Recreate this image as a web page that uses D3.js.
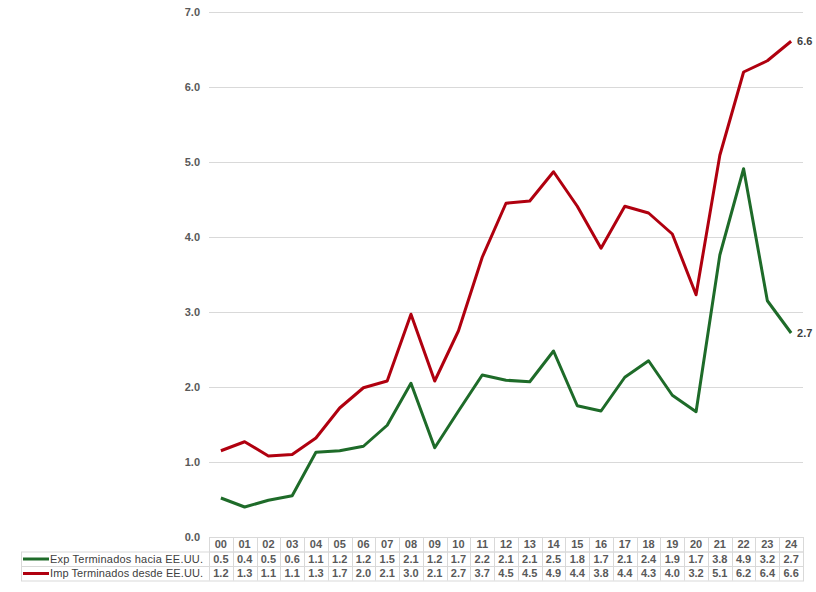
<!DOCTYPE html>
<html lang="es">
<head>
<meta charset="UTF-8">
<script src="https://cdnjs.cloudflare.com/ajax/libs/d3/7.8.5/d3.min.js"></script>
<style>
  body { margin: 0; background: #fff; }
  svg { font-family: Arial, "Liberation Sans", sans-serif; }
</style>
</head>
<body>
<div id="chart"></div>
<script>
// categories (years 2000-2024)
var years = ["00","01","02","03","04","05","06","07","08","09","10","11","12",
             "13","14","15","16","17","18","19","20","21","22","23","24"];

// values as drawn by the lines
var expValues = [0.52,0.40,0.49,0.55,1.13,1.15,1.21,1.49,2.05,1.19,1.68,2.16,2.09,
                 2.07,2.48,1.75,1.68,2.13,2.35,1.89,1.67,3.76,4.91,3.15,2.72];
var impValues = [1.15,1.27,1.08,1.10,1.32,1.72,1.99,2.08,2.97,2.08,2.75,3.73,4.45,
                 4.48,4.87,4.41,3.85,4.41,4.32,4.04,3.23,5.09,6.20,6.35,6.61];

// table labels
var expLabels = ["0.5","0.4","0.5","0.6","1.1","1.2","1.2","1.5","2.1","1.2","1.7","2.2","2.1",
                 "2.1","2.5","1.8","1.7","2.1","2.4","1.9","1.7","3.8","4.9","3.2","2.7"];
var impLabels = ["1.2","1.3","1.1","1.1","1.3","1.7","2.0","2.1","3.0","2.1","2.7","3.7","4.5",
                 "4.5","4.9","4.4","3.8","4.4","4.3","4.0","3.2","5.1","6.2","6.4","6.6"];

var seriesNames = ["Exp Terminados hacia EE.UU.", "Imp Terminados desde EE.UU."];
var seriesColors = ["#1e6b29", "#b0000f"];
var yTicks = [0,1,2,3,4,5,6,7];

var width = 816, height = 592;
var plotLeft = 209, plotRight = 803, plotTop = 12, plotBottom = 537;

var svg = d3.select("#chart").append("svg")
    .attr("width", width).attr("height", height);

var x = d3.scaleBand().domain(years).range([plotLeft, plotRight]);
var y = d3.scaleLinear().domain([0, 7]).range([plotBottom, plotTop]);

// gridlines
svg.append("g").selectAll("line")
    .data(yTicks.filter(function(d) { return d > 0; }))
    .enter().append("line")
    .attr("x1", plotLeft).attr("x2", plotRight)
    .attr("y1", function(d) { return Math.round(y(d)) + 0.5; })
    .attr("y2", function(d) { return Math.round(y(d)) + 0.5; })
    .attr("stroke", "#d9d9d9").attr("stroke-width", 1);

// y axis labels
svg.append("g").selectAll("text")
    .data(yTicks)
    .enter().append("text")
    .attr("x", 200)
    .attr("y", function(d) { return y(d) + 4; })
    .attr("text-anchor", "end")
    .attr("font-size", "11px").attr("font-weight", "bold")
    .attr("fill", "#595959")
    .text(function(d) { return d.toFixed(1); });

// lines
var line = d3.line()
    .x(function(d, i) { return x(years[i]) + x.bandwidth() / 2; })
    .y(function(d) { return y(d); });

[expValues, impValues].forEach(function(vals, k) {
    svg.append("path")
        .datum(vals)
        .attr("d", line)
        .attr("fill", "none")
        .attr("stroke", seriesColors[k])
        .attr("stroke-width", 3)
        .attr("stroke-linejoin", "round");

    var last = vals.length - 1;
    svg.append("text")
        .attr("x", x(years[last]) + x.bandwidth() / 2 + 6)
        .attr("y", y(vals[last]) + 4)
        .attr("font-size", "11px").attr("font-weight", "bold")
        .attr("fill", "#404040")
        .text([expLabels, impLabels][k][last]);
});

// data table
var rowTop = 537, rowH = 14.5, tableLeft = 21;
var grid = svg.append("g").attr("stroke", "#d9d9d9").attr("stroke-width", 1).attr("fill", "none");

// header row
grid.append("rect")
    .attr("x", plotLeft + 0.5).attr("y", rowTop + 0.5)
    .attr("width", plotRight - plotLeft).attr("height", rowH);
// data rows
grid.append("rect")
    .attr("x", tableLeft + 0.5).attr("y", rowTop + rowH + 0.5)
    .attr("width", plotRight - tableLeft).attr("height", rowH * 2);
grid.append("line")
    .attr("x1", tableLeft).attr("x2", plotRight)
    .attr("y1", rowTop + rowH * 2 + 0.5).attr("y2", rowTop + rowH * 2 + 0.5);
grid.selectAll("line.v")
    .data(years)
    .enter().append("line")
    .attr("x1", function(d) { return Math.round(x(d)) + 0.5; })
    .attr("x2", function(d) { return Math.round(x(d)) + 0.5; })
    .attr("y1", rowTop).attr("y2", rowTop + rowH * 3);

svg.append("g").selectAll("text")
    .data(years)
    .enter().append("text")
    .attr("x", function(d) { return x(d) + x.bandwidth() / 2; })
    .attr("y", rowTop + 11)
    .attr("text-anchor", "middle")
    .attr("font-size", "11px").attr("font-weight", "bold")
    .attr("fill", "#595959")
    .text(function(d) { return d; });

[expLabels, impLabels].forEach(function(labels, k) {
    var ry = rowTop + rowH * (k + 1);
    svg.append("g").selectAll("text")
        .data(labels)
        .enter().append("text")
        .attr("x", function(d, i) { return x(years[i]) + x.bandwidth() / 2; })
        .attr("y", ry + 11)
        .attr("text-anchor", "middle")
        .attr("font-size", "11px").attr("font-weight", "bold")
        .attr("fill", "#595959")
        .text(function(d) { return d; });

    svg.append("line")
        .attr("x1", 23).attr("x2", 49)
        .attr("y1", ry + 7.5).attr("y2", ry + 7.5)
        .attr("stroke", seriesColors[k]).attr("stroke-width", 3);

    svg.append("text")
        .attr("x", 50)
        .attr("y", ry + 11)
        .attr("font-size", "11px")
        .attr("textLength", 153)
        .attr("lengthAdjust", "spacing")
        .attr("fill", "#404040")
        .text(seriesNames[k]);
});
</script>
</body>
</html>
